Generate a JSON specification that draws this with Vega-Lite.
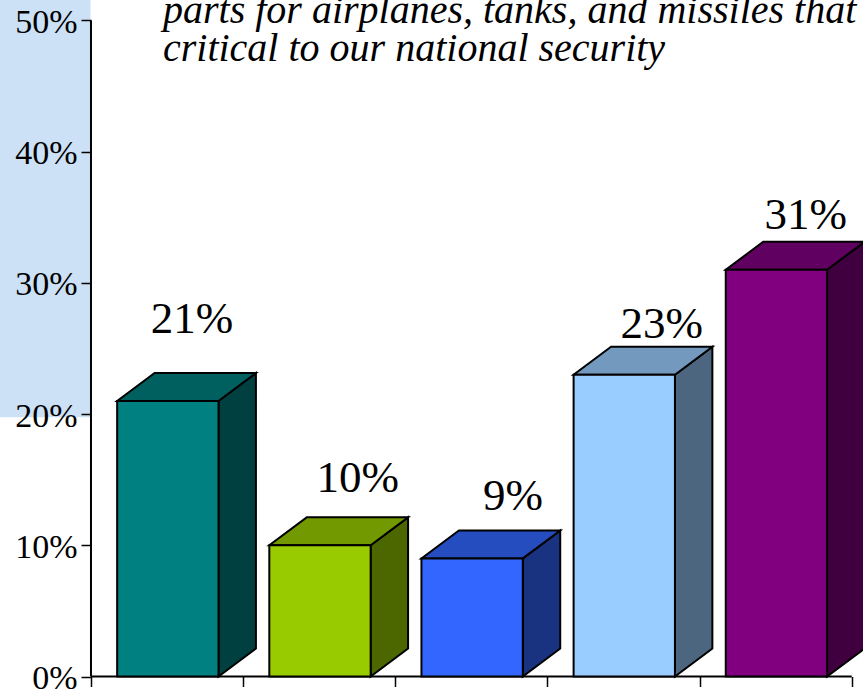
{
"$schema":"https://vega.github.io/schema/vega-lite/v6.json",
"width":863,"height":691,"padding":0,"autosize":{"type":"none"},
"background":"white",
"config":{"view":{"stroke":null},"font":"Liberation Serif"},
"datasets":{
"bars":[
{"cat":"A","i":0,"value":21,"label":"21%","lx":0.664,"ly":26.17},
{"cat":"B","i":1,"value":10,"label":"10%","lx":1.754,"ly":14.03},
{"cat":"C","i":2,"value":9,"label":"9%","lx":2.773,"ly":12.66},
{"cat":"D","i":3,"value":23,"label":"23%","lx":3.752,"ly":25.77},
{"cat":"E","i":4,"value":31,"label":"31%","lx":4.698,"ly":34.08}
]},
"encoding":{
"x":{"field":"px","type":"quantitative","title":null,
"scale":{"domain":[-0.598,5.074],"nice":false,"zero":false},
"axis":{"orient":"bottom","offset":-14.5,"values":[0,1,2,3,4,5],"labels":false,"domain":false,"grid":false,"tickColor":"#000000","tickSize":10,"tickWidth":1.5,"title":null,"zindex":1}},
"y":{"field":"py","type":"quantitative","title":null,
"scale":{"domain":[-1.105,51.56],"nice":false,"zero":false},
"axis":{"orient":"left","offset":-91,"values":[0,10,20,30,40,50],"labelExpr":"datum.value + '%'","domain":false,"grid":false,"tickColor":"#000000","tickSize":10,"tickWidth":1.5,"labelFont":"Liberation Serif","labelFontSize":34,"labelColor":"#000000","labelPadding":4,"labelOffset":2,"labelBound":false,"labelOverlap":false,"title":null,"zindex":1}}
},
"layer":[
{"data":{"values":[{"px":-0.598,"px2":-0.003,"py":19.75,"py2":51.56}]},
 "mark":{"type":"rect","color":"#CCE1F6"},
 "encoding":{"x2":{"field":"px2"},"y2":{"field":"py2"}}},
{"data":{"values":[{"a":"y","px":0,"py":0},{"a":"y","px":0,"py":50},{"a":"x","px":0,"py":0},{"a":"x","px":5,"py":0}]},
 "mark":{"type":"line","color":"#000000","strokeWidth":2},
 "encoding":{"detail":{"field":"a"}}},
{"data":{"name":"bars"},
 "transform":[{"calculate":"[0,1]","as":"t"},{"flatten":["t"]},
  {"calculate":"datum.i+0.838+0.246*datum.t","as":"px"},
  {"calculate":"datum.value+2.13*datum.t","as":"py"},
  {"calculate":"2.13*datum.t","as":"py2"}],
 "mark":{"type":"area","stroke":"#000000","strokeWidth":2,"clip":true,"opacity":1},
 "encoding":{"y2":{"field":"py2"},"detail":{"field":"cat"},
  "fill":{"field":"cat","type":"nominal","legend":null,"scale":{"domain":["A","B","C","D","E"],"range":["#004040","#4C6600","#1A3380","#4C6680","#400040"]}}}},
{"data":{"name":"bars"},
 "transform":[{"calculate":"[0,1]","as":"t"},{"flatten":["t"]},
  {"calculate":"datum.i+0.172+0.246*datum.t","as":"px"},
  {"calculate":"datum.i+0.838+0.246*datum.t","as":"px2"},
  {"calculate":"datum.value+2.13*datum.t","as":"py"}],
 "mark":{"type":"area","orient":"horizontal","stroke":"#000000","strokeWidth":2,"clip":true,"opacity":1},
 "encoding":{"x2":{"field":"px2"},"detail":{"field":"cat"},
  "fill":{"field":"cat","type":"nominal","legend":null,"scale":{"domain":["A","B","C","D","E"],"range":["#006060","#739900","#264DBF","#7399BF","#600060"]}}}},
{"data":{"name":"bars"},
 "transform":[
  {"calculate":"datum.i+0.172","as":"px"},
  {"calculate":"datum.i+0.838","as":"px2"},
  {"calculate":"datum.value","as":"py"},
  {"calculate":"0","as":"py2"}],
 "mark":{"type":"rect","stroke":"#000000","strokeWidth":2},
 "encoding":{"x2":{"field":"px2"},"y2":{"field":"py2"},
  "fill":{"field":"cat","type":"nominal","legend":null,"scale":{"domain":["A","B","C","D","E"],"range":["#008080","#99CC00","#3366FF","#99CCFF","#800080"]}}}},
{"data":{"name":"bars"},
 "transform":[{"calculate":"datum.lx","as":"px"},{"calculate":"datum.ly","as":"py"}],
 "mark":{"type":"text","font":"Liberation Serif","fontSize":45,"align":"center","baseline":"alphabetic","color":"#000000"},
 "encoding":{"text":{"field":"label"}}},
{"data":{"values":[
  {"t":"parts for airplanes, tanks, and missiles that","px":0.473,"py":49.8},
  {"t":"critical to our national security","px":0.473,"py":46.9}]},
 "mark":{"type":"text","font":"Liberation Serif","fontSize":40,"fontStyle":"italic","align":"left","baseline":"alphabetic","color":"#000000"},
 "encoding":{"text":{"field":"t"}}}
],
"resolve":{"scale":{"fill":"independent"}}
}
